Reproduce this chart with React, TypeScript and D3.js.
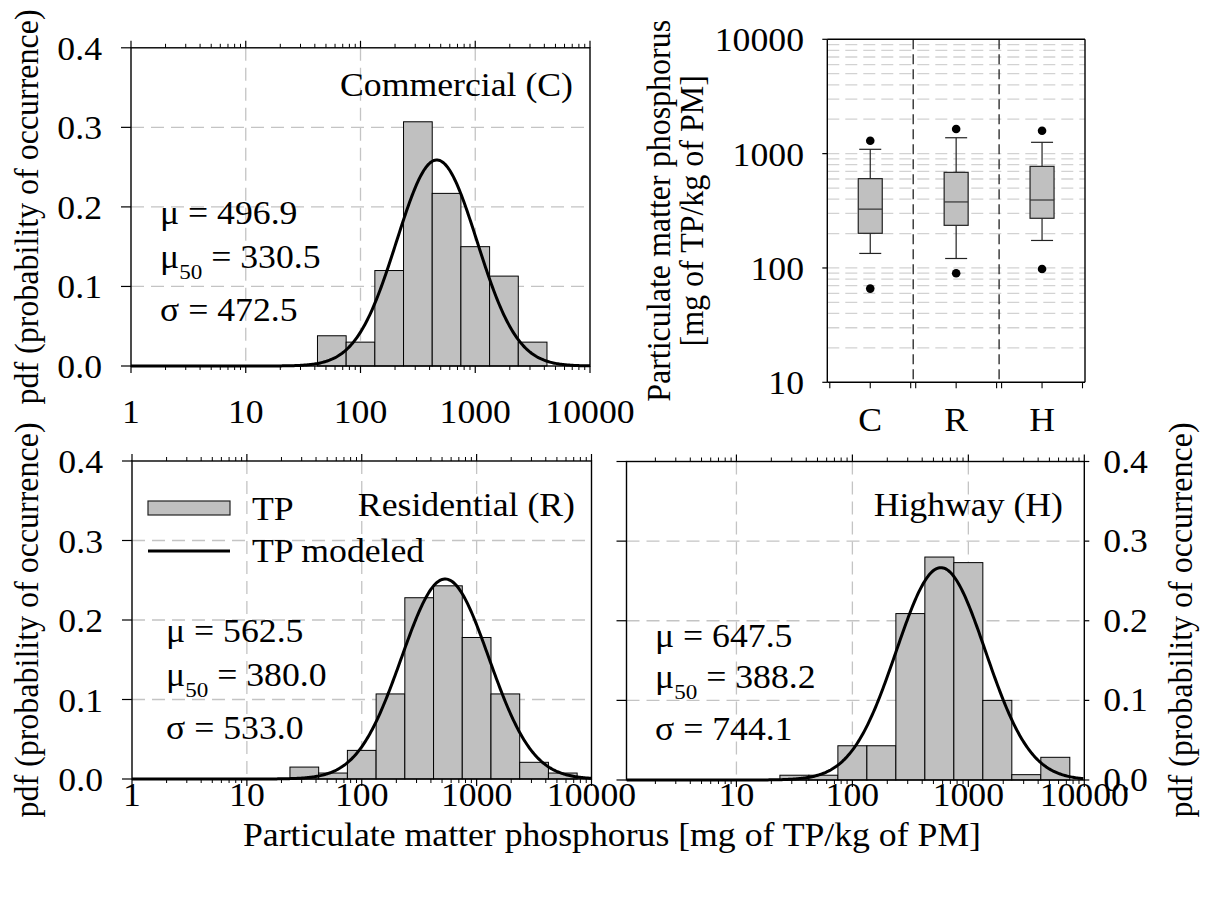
import React from 'react';
import * as d3 from 'd3';

const FONT = "'Liberation Serif','Times New Roman',Times,serif";
const SX = 1.05; // horizontal glyph stretch seen in the reference

// ---------- histogram data ----------
const BIN_LOG_CENTERS = [1.5, 1.75, 2.0, 2.25, 2.5, 2.75, 3.0, 3.25, 3.5, 3.75];
const BIN_LOG_WIDTH = 0.25;
const PDF_COMMERCIAL = [0, 0.038, 0.03, 0.12, 0.307, 0.217, 0.15, 0.113, 0.03, 0];
const PDF_RESIDENTIAL = [0.015, 0.0075, 0.036, 0.107, 0.228, 0.243, 0.178, 0.107, 0.021, 0.0075];
const PDF_HIGHWAY = [0.006, 0.006, 0.043, 0.043, 0.209, 0.28, 0.273, 0.1, 0.0067, 0.0285];

// modeled log-normal curves (log10 mode, log10 spread, peak pdf)
const MODEL_COMMERCIAL = { mode: 2.665, spread: 0.35, peak: 0.259 };
const MODEL_RESIDENTIAL = { mode: 2.726, spread: 0.38, peak: 0.2516 };
const MODEL_HIGHWAY = { mode: 2.763, spread: 0.385, peak: 0.2667 };

const STATS_COMMERCIAL = ['496.9', '330.5', '472.5'];
const STATS_RESIDENTIAL = ['562.5', '380.0', '533.0'];
const STATS_HIGHWAY = ['647.5', '388.2', '744.1'];

const X_TICKS = [1, 10, 100, 1000, 10000];
const Y_TICKS = [0, 0.1, 0.2, 0.3, 0.4];
const Y_GRID = [0.1, 0.2, 0.3];
const X_GRID = [10, 100, 1000];

// ---------- box plot data ----------
const BOX_CATEGORIES = ['C', 'R', 'H'];
const BOX_WHISKER_LOW = [134, 121, 174];
const BOX_Q1 = [201, 236, 272];
const BOX_MEDIAN = [327, 378, 393];
const BOX_Q3 = [604, 686, 774];
const BOX_WHISKER_HIGH = [1091, 1377, 1256];
const BOX_OUTLIER_LOW = [66, 90, 98];
const BOX_OUTLIER_HIGH = [1297, 1641, 1585];
const BOX_Y_TICKS = [10, 100, 1000, 10000];

function T({ x, y, anchor = 'start', size = 34, rot = 0, children, fill = '#000' }: any) {
  return (
    <text
      transform={`translate(${x},${y}) scale(${SX},1)${rot ? ` rotate(${rot})` : ''}`}
      textAnchor={anchor}
      fontSize={size}
      fontFamily={FONT}
      fill={fill}
    >
      {children}
    </text>
  );
}

const fmtY = (v: number) => v.toFixed(1);

function HistPanel(p: any) {
  const x = d3.scaleLog().domain([p.xMin, 10000]).range([p.left, p.right]);
  const y = d3.scaleLinear().domain([0, 0.4]).range([p.bottom, p.top]);
  const bars = BIN_LOG_CENTERS.map((c, i) => ({
    x0: Math.pow(10, c - BIN_LOG_WIDTH / 2),
    x1: Math.pow(10, c + BIN_LOG_WIDTH / 2),
    v: p.values[i],
  })).filter((b) => b.v > 0);
  const lmin = Math.log10(p.xMin);
  const pts = d3.range(lmin, 4.0001, 0.01).map((l) => [
    Math.pow(10, l),
    p.model.peak * Math.exp(-0.5 * Math.pow((l - p.model.mode) / p.model.spread, 2)),
  ]);
  const line = d3.line<number[]>().x((d) => x(d[0])).y((d) => y(d[1])).curve(d3.curveLinear);
  const minors: number[] = [];
  [1, 10, 100, 1000].forEach((d) => {
    for (let k = 2; k <= 9; k++) if (d * k >= p.xMin) minors.push(d * k);
  });
  const clipId = `clip-${p.id}`;
  const sb = p.statsBase;
  return (
    <g>
      <defs>
        <clipPath id={clipId}>
          <rect x={p.left} y={p.top - 2} width={p.right - p.left} height={p.bottom - p.top + 4} />
        </clipPath>
      </defs>
      {Y_GRID.map((v) => (
        <line key={'gy' + v} x1={p.left} x2={p.right} y1={y(v)} y2={y(v)} stroke="#c4c4c4" strokeWidth={1.3} strokeDasharray="13,7" />
      ))}
      {X_GRID.map((v) => (
        <line key={'gx' + v} x1={x(v)} x2={x(v)} y1={p.top} y2={p.bottom} stroke="#c4c4c4" strokeWidth={1.3} strokeDasharray="13,7" />
      ))}
      {bars.map((b, i) => (
        <rect key={'b' + i} x={x(b.x0)} y={y(b.v)} width={x(b.x1) - x(b.x0)} height={y(0) - y(b.v)} fill="#c0c0c0" stroke="#000" strokeWidth={1} />
      ))}
      <path d={line(pts as any) || ''} fill="none" stroke="#000" strokeWidth={3} clipPath={`url(#${clipId})`} />
      <rect x={p.left} y={p.top} width={p.right - p.left} height={p.bottom - p.top} fill="none" stroke="#000" strokeWidth={1.4} />
      {X_TICKS.filter((v) => v >= p.xMin).map((v) => (
        <g key={'xt' + v}>
          <line x1={x(v)} x2={x(v)} y1={p.bottom} y2={p.bottom + 7} stroke="#000" strokeWidth={1.2} />
          <line x1={x(v)} x2={x(v)} y1={p.top} y2={p.top - 7} stroke="#000" strokeWidth={1.2} />
        </g>
      ))}
      {minors.map((v) => (
        <g key={'xm' + v}>
          <line x1={x(v)} x2={x(v)} y1={p.bottom} y2={p.bottom + 4} stroke="#000" strokeWidth={1} />
          <line x1={x(v)} x2={x(v)} y1={p.top} y2={p.top - 4} stroke="#000" strokeWidth={1} />
        </g>
      ))}
      {Y_TICKS.map((v) => (
        <line key={'yt' + v} x1={p.left} x2={p.left - 10} y1={y(v)} y2={y(v)} stroke="#000" strokeWidth={1.2} />
      ))}
      {p.rightAxis &&
        Y_TICKS.map((v) => (
          <line key={'ytr' + v} x1={p.right} x2={p.right + 5} y1={y(v)} y2={y(v)} stroke="#000" strokeWidth={1.2} />
        ))}
      {p.leftLabels &&
        Y_TICKS.map((v) => (
          <T key={'yl' + v} x={p.left - 29} y={y(v) + 12} anchor="end">{fmtY(v)}</T>
        ))}
      {p.rightAxis &&
        Y_TICKS.map((v) => (
          <T key={'ylr' + v} x={p.right + 19} y={y(v) + 11} anchor="start">{fmtY(v)}</T>
        ))}
      {p.xLabels.map((v: number) => (
        <T key={'xl' + v} x={x(v)} y={p.xLabelY} anchor="middle">{String(v)}</T>
      ))}
      <T x={p.titleX} y={p.titleY} anchor="end">{p.title}</T>
      <T x={p.statsX} y={sb[0]}>{`\u03bc = ${p.stats[0]}`}</T>
      <T x={p.statsX} y={sb[1]}>
        {'\u03bc'}
        <tspan fontSize={22} dy={11}>50</tspan>
        <tspan dy={-11}>{` = ${p.stats[1]}`}</tspan>
      </T>
      <T x={p.statsX} y={sb[2]}>{`\u03c3 = ${p.stats[2]}`}</T>
    </g>
  );
}

function BoxPanel() {
  const left = 827.3, right = 1085, top = 39.3, bottom = 382.3;
  const y = d3.scaleLog().domain([10, 10000]).range([bottom, top]);
  const xb = d3.scaleBand().domain(BOX_CATEGORIES).range([left, right]).padding(0);
  const bw = xb.bandwidth();
  const grid: number[] = [];
  [10, 100, 1000].forEach((d) => {
    for (let k = 1; k <= 9; k++) if (d * k > 10) grid.push(d * k);
  });
  const boxW = 24, capW = 22;
  return (
    <g>
      {grid.map((v) => (
        <line key={'bg' + v} x1={left} x2={right} y1={y(v)} y2={y(v)} stroke="#d2d2d2" strokeWidth={1.3} strokeDasharray="12,6" />
      ))}
      {BOX_CATEGORIES.slice(1).map((c) => (
        <line key={'sep' + c} x1={xb(c)} x2={xb(c)} y1={top} y2={bottom} stroke="#222" strokeWidth={1.3} strokeDasharray="10,5" />
      ))}
      <line x1={left} x2={left} y1={top} y2={bottom} stroke="#000" strokeWidth={1.4} />
      <line x1={left} x2={right} y1={bottom} y2={bottom} stroke="#000" strokeWidth={1.4} />
      <line x1={left} x2={right} y1={top} y2={top} stroke="#000" strokeWidth={1.4} />
      <line x1={right} x2={right} y1={top} y2={bottom} stroke="#000" strokeWidth={1.4} />
      {BOX_CATEGORIES.map((c, i) => {
        const cx = (xb(c) as number) + bw / 2;
        const b0 = xb(c) as number;
        return (
          <g key={'box' + c}>
            <line x1={cx} x2={cx} y1={y(BOX_WHISKER_LOW[i])} y2={y(BOX_Q1[i])} stroke="#222" strokeWidth={1.2} />
            <line x1={cx} x2={cx} y1={y(BOX_Q3[i])} y2={y(BOX_WHISKER_HIGH[i])} stroke="#222" strokeWidth={1.2} />
            <line x1={cx - capW / 2} x2={cx + capW / 2} y1={y(BOX_WHISKER_LOW[i])} y2={y(BOX_WHISKER_LOW[i])} stroke="#222" strokeWidth={1.2} />
            <line x1={cx - capW / 2} x2={cx + capW / 2} y1={y(BOX_WHISKER_HIGH[i])} y2={y(BOX_WHISKER_HIGH[i])} stroke="#222" strokeWidth={1.2} />
            <rect x={cx - boxW / 2} y={y(BOX_Q3[i])} width={boxW} height={y(BOX_Q1[i]) - y(BOX_Q3[i])} fill="#c0c0c0" stroke="#222" strokeWidth={1.2} />
            <line x1={cx - boxW / 2} x2={cx + boxW / 2} y1={y(BOX_MEDIAN[i])} y2={y(BOX_MEDIAN[i])} stroke="#333" strokeWidth={1.2} />
            <circle cx={cx} cy={y(BOX_OUTLIER_HIGH[i])} r={4.3} fill="#000" />
            <circle cx={cx} cy={y(BOX_OUTLIER_LOW[i])} r={4.3} fill="#000" />
            {[b0 + 2.5, cx, b0 + bw - 2.5].map((tx, j) => (
              <line key={j} x1={tx} x2={tx} y1={bottom} y2={bottom + 6} stroke="#000" strokeWidth={1.1} />
            ))}
            <T x={cx} y={431} anchor="middle">{c}</T>
          </g>
        );
      })}
      {BOX_Y_TICKS.map((v) => (
        <g key={'byt' + v}>
          <line x1={left} x2={left - 5} y1={y(v)} y2={y(v)} stroke="#000" strokeWidth={1.2} />
          <T x={804} y={y(v) + 12} anchor="end">{String(v)}</T>
        </g>
      ))}
      <T x={670} y={(top + bottom) / 2} anchor="middle" size={32} rot={-90}>Particulate matter phosphorus</T>
      <T x={703} y={(top + bottom) / 2} anchor="middle" size={32} rot={-90}>[mg of TP/kg of PM]</T>
    </g>
  );
}

export default function App() {
  return (
    <svg width={1208} height={902} style={{ position: 'absolute', left: 0, top: 0, background: '#fff' }}>
      <rect x={0} y={0} width={1208} height={902} fill="#fff" />
      <HistPanel
        id="c"
        left={131} right={590} top={47.8} bottom={366}
        xMin={1}
        values={PDF_COMMERCIAL}
        model={MODEL_COMMERCIAL}
        title="Commercial (C)" titleX={573} titleY={96}
        stats={STATS_COMMERCIAL} statsX={160} statsBase={[224, 268, 321]}
        leftLabels
        xLabels={[1, 10, 100, 1000, 10000]} xLabelY={423}
      />
      <HistPanel
        id="r"
        left={132} right={591.5} top={461} bottom={779}
        xMin={1}
        values={PDF_RESIDENTIAL}
        model={MODEL_RESIDENTIAL}
        title="Residential (R)" titleX={575} titleY={516}
        stats={STATS_RESIDENTIAL} statsX={166} statsBase={[642, 686, 739]}
        leftLabels
        xLabels={[1, 10, 100, 1000, 10000]} xLabelY={806}
      />
      <HistPanel
        id="h"
        left={626.5} right={1084.3} top={461.5} bottom={780}
        xMin={Math.pow(10, 0.052)}
        values={PDF_HIGHWAY}
        model={MODEL_HIGHWAY}
        title="Highway (H)" titleX={1063} titleY={516}
        stats={STATS_HIGHWAY} statsX={655} statsBase={[647, 688, 740]}
        rightAxis
        xLabels={[10, 100, 1000, 10000]} xLabelY={806}
      />
      <rect x={148} y={501} width={82} height={14} fill="#c0c0c0" stroke="#222" strokeWidth={1.2} />
      <line x1={148} x2={230} y1={551} y2={551} stroke="#000" strokeWidth={3} />
      <T x={252} y={520}>TP</T>
      <T x={252} y={562}>TP modeled</T>
      <T x={38} y={207} anchor="middle" size={32} rot={-90}>pdf (probability of occurrence)</T>
      <T x={38} y={620} anchor="middle" size={32} rot={-90}>pdf (probability of occurrence)</T>
      <T x={1192} y={620} anchor="middle" size={32} rot={-90}>pdf (probability of occurrence)</T>
      <T x={612} y={846} anchor="middle">Particulate matter phosphorus [mg of TP/kg of PM]</T>
      <BoxPanel />
    </svg>
  );
}
